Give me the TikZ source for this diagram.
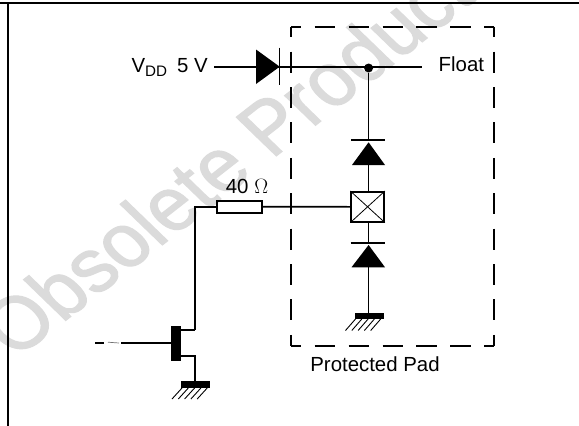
\documentclass[tikz,border=0pt]{standalone}
\usepackage{fontspec}
\setmainfont{Liberation Sans}
\newfontfamily\wmfont[FakeBold=1.6]{Liberation Sans}
\begin{document}
\begin{tikzpicture}[x=1pt,y=-1pt,
  wire/.style={line width=1.6pt},
  rule/.style={line width=1.9pt},
  tri/.style={fill=black,draw=none},
  bar/.style={line width=1.4pt},
  hatch/.style={line width=0.9pt},
  lbl/.style={inner sep=0pt,font=\fontsize{20.4}{22}\selectfont,text=black,anchor=base},
  dashh/.style={line width=1.7pt,dash pattern=on 20.4pt off 13.5pt,dash phase=10.2pt},
  dashv/.style={line width=1.7pt,dash pattern=on 21pt off 14.4pt,dash phase=10.5pt}]
\useasboundingbox (0,0) rectangle (579,426);
\begin{scope}
\clip (0,0) rectangle (579,426);
\node[rotate=38,xslant=-0.14,xscale=0.95,inner sep=0pt,anchor=base west,text=black!14,font=\fontsize{80}{84}\wmfont] (wm) at (15,360) {Obsolete Product(s)};
\end{scope}
\coordinate (tl) at (0,2.7); \coordinate (tr) at (579,2.7);
\coordinate (vt) at (7.7,2.7); \coordinate (vb) at (7.7,426);
\draw[rule] (tl) -- (tr);
\draw[rule] (vt) -- (vb);
% protected box
\coordinate (b1) at (291,26.7); \coordinate (b2) at (494,26.7);
\coordinate (b3) at (494,345.7); \coordinate (b4) at (291,345.7);
\draw[dashh] (b1) -- (b2);
\draw[dashh] (b4) -- (b3);
\draw[dashv] (b1) -- (b4);
\draw[dashv] (b2) -- (b3);
% top rail
\node[lbl,anchor=base east] (vdd) at (208,72) {V\raisebox{-4.5pt}{\fontsize{15.2}{16}\selectfont DD}\hspace{10pt}5 V};
\coordinate (vs) at (214,66.7);
\coordinate (fe) at (422,66.7);
\draw[wire] (vs) -- (fe);
\coordinate (d1a) at (256,49.5); \coordinate (d1b) at (256,84); \coordinate (d1c) at (279.7,66.7);
\fill[tri] (d1a) -- (d1c) -- (d1b) -- cycle;
\coordinate (d1t) at (279.7,47.5); \coordinate (d1u) at (279.7,85);
\draw[bar] (d1t) -- (d1u);
\node[lbl,anchor=base west] (float) at (438.5,71.7) {Float};
\node[circle,fill=black,minimum size=9pt,inner sep=0pt] (dot) at (368.6,68) {};
% pad
\node[draw,line width=1.6pt,minimum width=33pt,minimum height=30pt,inner sep=0pt] (pad) at (367.6,206.8) {};
\draw[line width=0.8pt] (pad.north west) -- (pad.south east) (pad.north east) -- (pad.south west);
% upper clamp diode
\coordinate (t2a) at (368.6,142.3); \coordinate (t2b) at (352,165); \coordinate (t2c) at (385,165);
\fill[tri] (t2a) -- (t2b) -- (t2c) -- cycle;
\coordinate (b2a) at (351,140.3); \coordinate (b2b) at (385,140.3);
\draw[line width=2pt] (b2a) -- (b2b);
\coordinate (b2m) at (368.6,140.3); \coordinate (t2m) at (368.6,165); \coordinate (padt) at (368.6,191.7);
\draw[wire] (dot) -- (b2m);
\draw[wire] (t2m) -- (padt);
% lower clamp diode
\coordinate (t3a) at (368.6,245); \coordinate (t3b) at (351.5,267.3); \coordinate (t3c) at (385,267.3);
\fill[tri] (t3a) -- (t3b) -- (t3c) -- cycle;
\coordinate (b3a) at (350.5,242.8); \coordinate (b3b) at (385,242.8);
\draw[bar] (b3a) -- (b3b);
\coordinate (padb) at (368.6,222); \coordinate (b3m) at (368.6,242.8); \coordinate (t3m) at (368.6,267.3);
\coordinate (g1t) at (368.6,313);
\draw[wire] (padb) -- (b3m);
\draw[wire] (t3m) -- (g1t);
\node[fill=black,minimum width=29pt,minimum height=6.5pt,inner sep=0pt] (g1) at (369.5,316) {};
\foreach \i in {0,1,2,3,4} \draw[hatch] (345.5+6.3*\i,330.5) -- (355.5+6.3*\i,319);
% resistor
\node[draw,line width=1.6pt,minimum width=45pt,minimum height=12pt,inner sep=0pt] (res) at (239.3,206.7) {};
\node[lbl] (ohm) at (247,193) {40 $\Omega$};
\draw[wire] (res.east) -- (pad.west);
\coordinate (k1) at (195,206.7); \coordinate (k2) at (195,330);
\draw[wire] (res.west) -- (k1) -- (k2);
% transistor
\node[fill=black,minimum width=10pt,minimum height=35pt,inner sep=0pt] (fet) at (176,343.5) {};
\coordinate (dr) at (181,330); \coordinate (so) at (181,356); \coordinate (k3) at (195,356); \coordinate (g2t) at (195,381);
\draw[wire] (dr) -- (k2);
\draw[wire] (so) -- (k3) -- (g2t);
\node[fill=black,minimum width=29pt,minimum height=6.5pt,inner sep=0pt] (g2) at (195.5,384.5) {};
\foreach \i in {0,1,2,3,4} \draw[hatch] (172+6.3*\i,399) -- (182+6.3*\i,388);
\coordinate (ga) at (121,342.7); \coordinate (gb) at (171,342.7);
\draw[wire] (ga) -- (gb);
\coordinate (ga1) at (95,342.7); \coordinate (ga2) at (104,342.7);
\draw[wire] (ga1) -- (ga2);
\coordinate (ga3) at (108,342.2); \coordinate (ga4) at (119,343);
\draw[line width=0.7pt,black!55] (ga3) -- (ga4);
\node[lbl] (pp) at (375,371.7) {Protected Pad};
\end{tikzpicture}
\end{document}
